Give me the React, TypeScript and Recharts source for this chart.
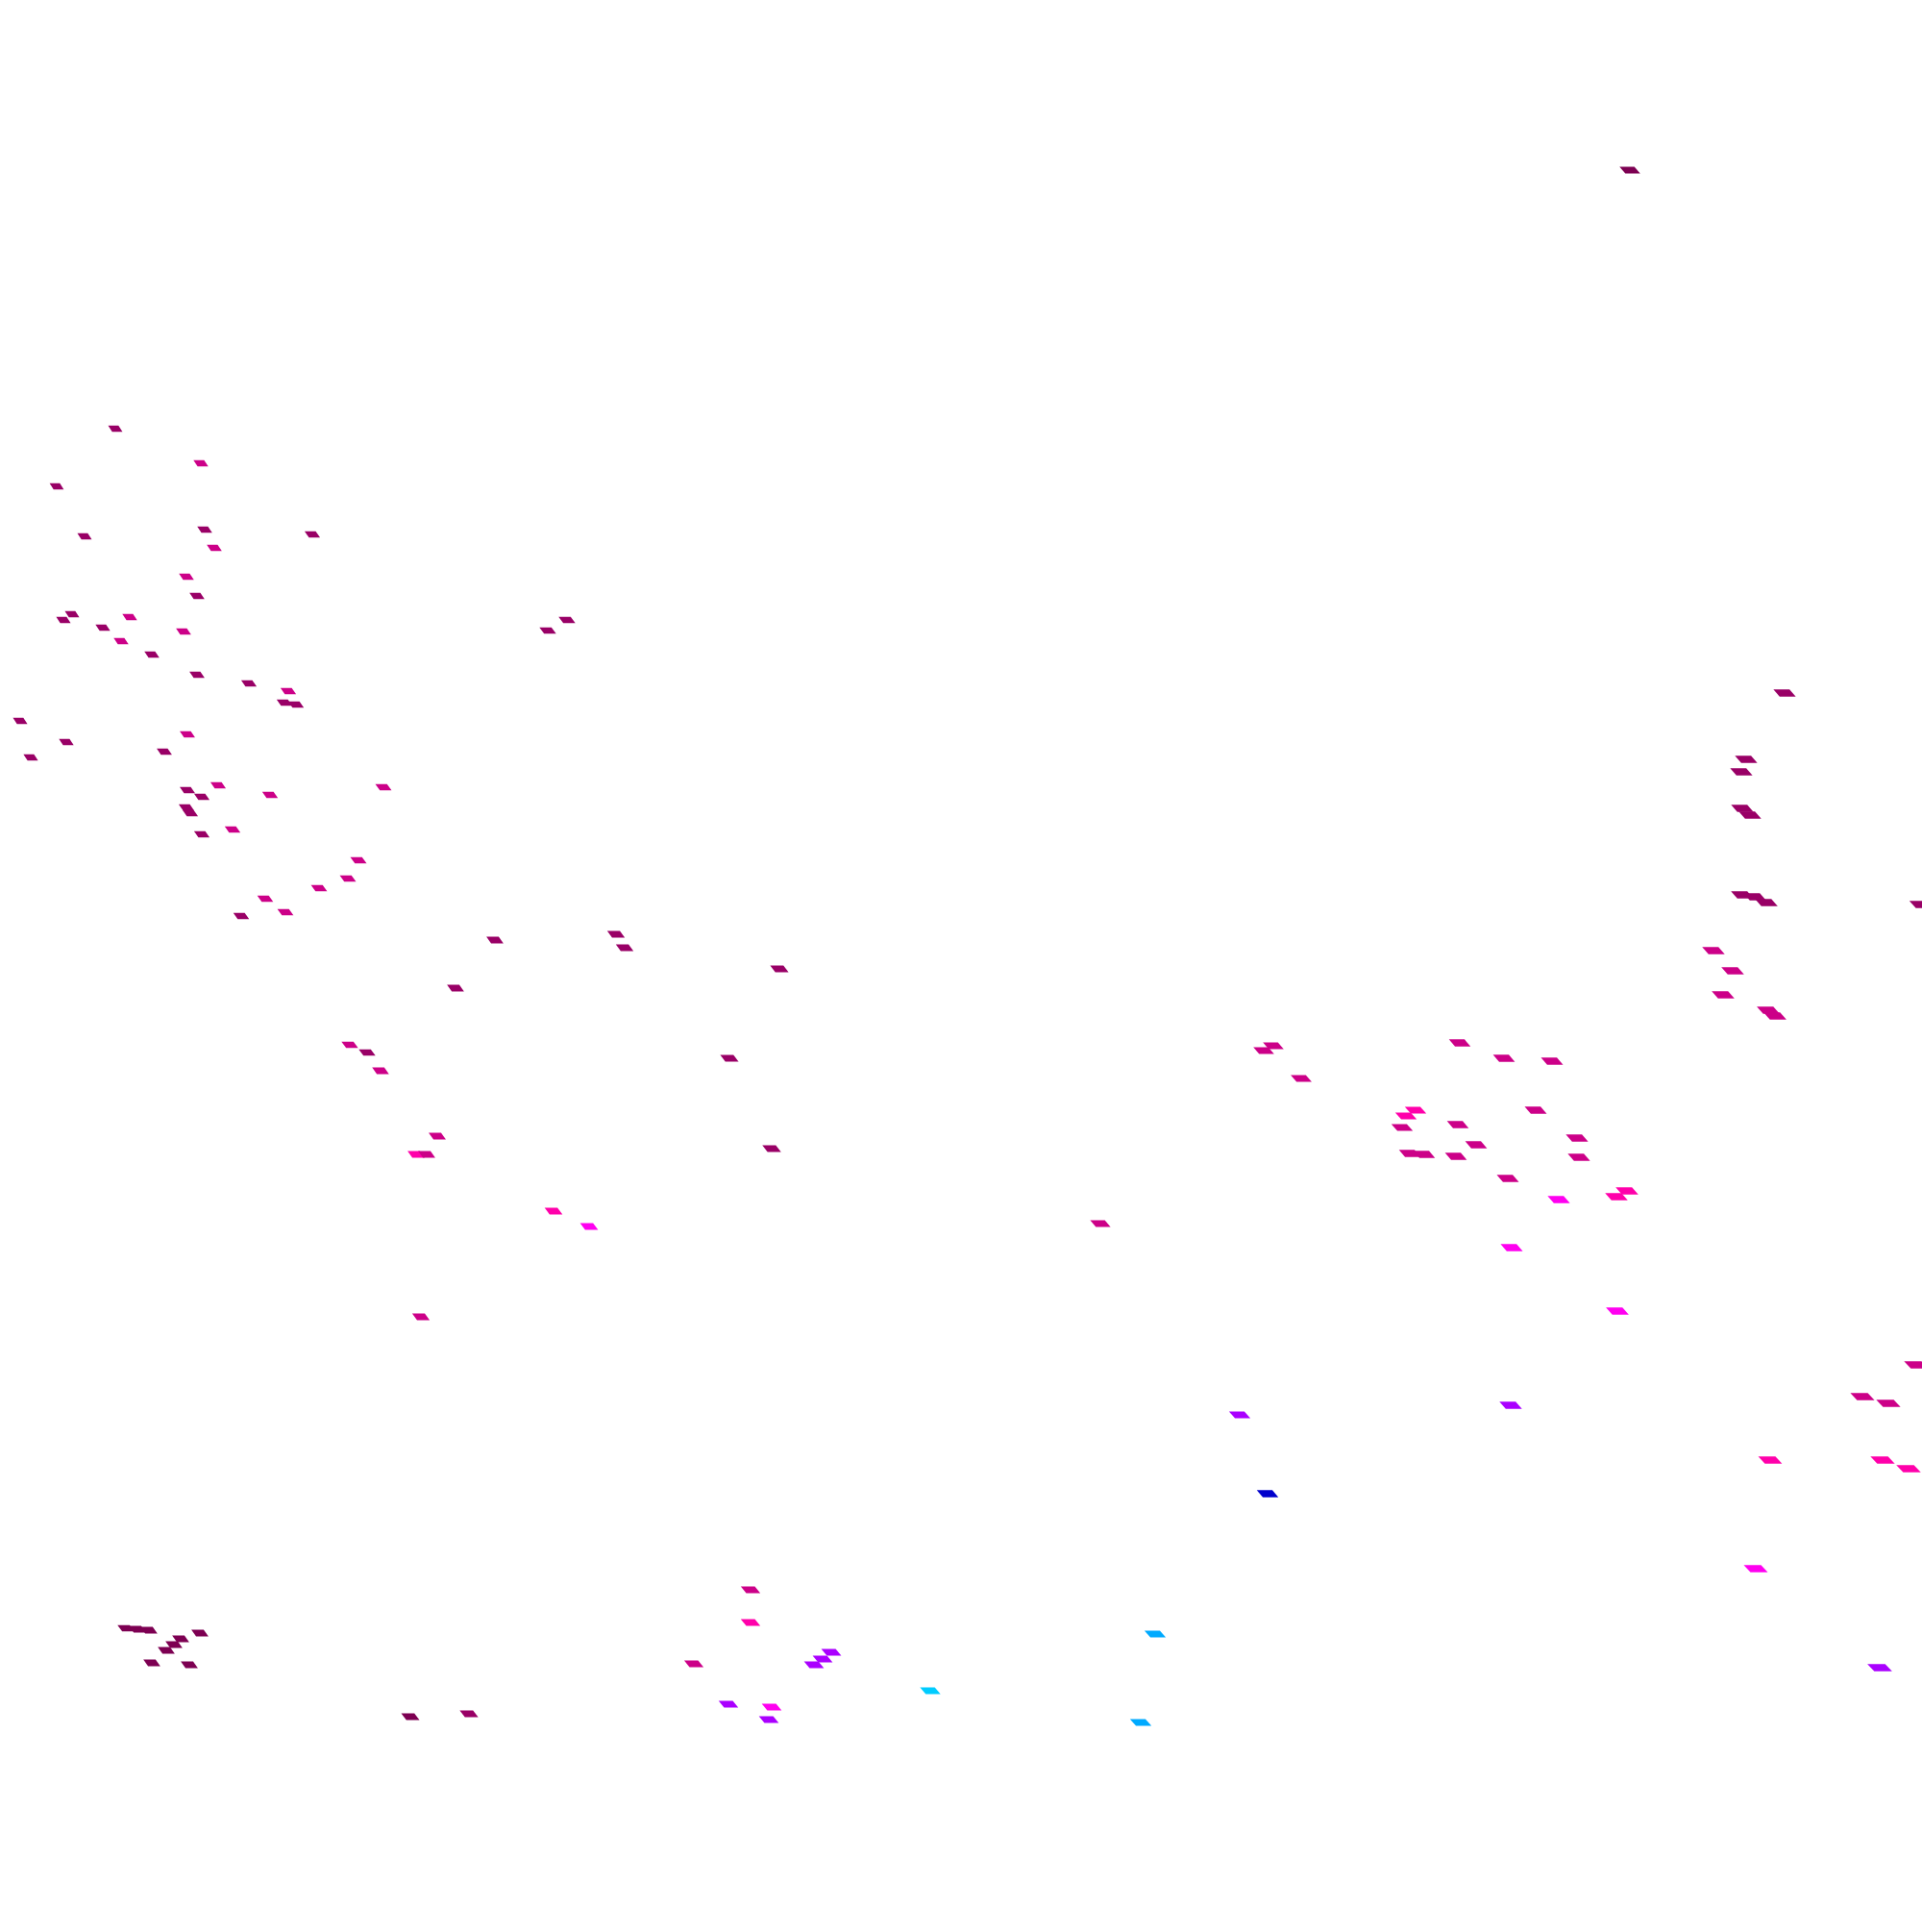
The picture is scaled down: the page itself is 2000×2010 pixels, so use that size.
import { ScatterChart, Scatter, XAxis, YAxis } from 'recharts';

// point positions, in plot units (0..2000 across, 0..2010 down)
const deepPlum: [number, number][] = [
  [1696, 177], [131, 1694], [143, 1695], [155, 1696], [188, 1705], [208, 1699],
  [181, 1711], [173, 1717], [158, 1730], [197, 1732], [427, 1786],
];

const plum: [number, number][] = [
  [120, 446], [59, 506], [88, 558], [213, 551], [325, 556], [205, 620], [75, 639],
  [66, 645], [107, 653], [158, 681], [205, 702], [259, 711], [296, 731], [308, 733],
  [21, 750], [590, 645], [570, 656], [69, 772], [32, 788], [171, 782], [195, 822],
  [210, 829], [194, 840], [198, 846], [210, 868], [251, 953], [515, 978], [641, 972],
  [650, 986], [811, 1008], [474, 1028], [382, 1095], [759, 1101], [803, 1195],
  [1857, 721], [1817, 790], [1812, 803], [1813, 841], [1821, 848], [1813, 931],
  [1826, 933], [1838, 939], [1999, 941], [488, 1783],
];

const hotPink: [number, number][] = [
  [433, 1201], [576, 1260], [1473, 1155], [1463, 1161], [1693, 1239], [1682, 1245],
  [1842, 1519], [1959, 1519], [1986, 1528], [781, 1688],
];

const magenta: [number, number][] = [
  [209, 482], [223, 570], [194, 600], [135, 642], [191, 657], [126, 667], [300, 719],
  [195, 764], [399, 819], [227, 817], [281, 827], [242, 863], [373, 895], [362, 914],
  [332, 924], [276, 935], [297, 949], [364, 1087], [396, 1114], [455, 1182], [444, 1201],
  [1145, 1273], [438, 1370], [1325, 1088], [1315, 1093], [1354, 1122], [1519, 1085],
  [1565, 1101], [1615, 1104], [1459, 1173], [1517, 1170], [1598, 1155], [1536, 1191],
  [1641, 1184], [1467, 1200], [1482, 1201], [1515, 1203], [1643, 1204], [1569, 1226],
  [1783, 989], [1803, 1010], [1793, 1035], [1840, 1051], [1847, 1057], [1994, 1420],
  [1938, 1453], [1965, 1460], [781, 1654], [722, 1731],
];

const fuchsia: [number, number][] = [
  [613, 1276], [1622, 1248], [1573, 1298], [1683, 1364], [1827, 1632], [803, 1776],
];

const violet: [number, number][] = [
  [1956, 1735], [1290, 1472], [1572, 1462], [865, 1719], [856, 1726], [847, 1732],
  [758, 1773], [800, 1789],
];

const royalBlue: [number, number][] = [[1319, 1554]];
const aqua: [number, number][] = [[968, 1759]];
const skyBlue: [number, number][] = [[1202, 1700], [1187, 1792]];

const series = [
  { name: 'deepPlum', points: deepPlum, color: '#7d0052' },
  { name: 'plum', points: plum, color: '#990066' },
  { name: 'hotPink', points: hotPink, color: '#ff00aa' },
  { name: 'magenta', points: magenta, color: '#cc0088' },
  { name: 'fuchsia', points: fuchsia, color: '#ff00f0' },
  { name: 'violet', points: violet, color: '#aa00ff' },
  { name: 'royalBlue', points: royalBlue, color: '#0000cc' },
  { name: 'aqua', points: aqua, color: '#00ccff' },
  { name: 'skyBlue', points: skyBlue, color: '#00aaff' },
];

// skewed flat tile, a bit bigger towards the right / bottom (perspective)
const Tile = (props: any) => {
  const { cx, cy, fill } = props;
  if (cx == null || cy == null) return null;
  const w = 13.5 + 0.0045 * cx + 0.002 * cy;
  const h = 5 + w * 0.1;
  const len = w * 0.72;
  const pts = [
    [cx - w / 2, cy - h / 2],
    [cx - w / 2 + len, cy - h / 2],
    [cx + w / 2, cy + h / 2],
    [cx + w / 2 - len, cy + h / 2],
  ]
    .map((p) => p.join(','))
    .join(' ');
  return <polygon points={pts} fill={fill} />;
};

export default function App() {
  return (
    <div style={{ position: 'absolute', left: 0, top: 0, background: '#fff' }}>
      <ScatterChart width={2000} height={2010} margin={{ top: 0, right: 0, bottom: 0, left: 0 }}>
        <XAxis type="number" dataKey="x" domain={[0, 2000]} hide />
        <YAxis type="number" dataKey="y" domain={[0, 2010]} reversed hide />
        {series.map((s) => (
          <Scatter
            key={s.name}
            name={s.name}
            data={s.points.map(([x, y]) => ({ x, y }))}
            fill={s.color}
            shape={Tile}
            isAnimationActive={false}
          />
        ))}
      </ScatterChart>
    </div>
  );
}
